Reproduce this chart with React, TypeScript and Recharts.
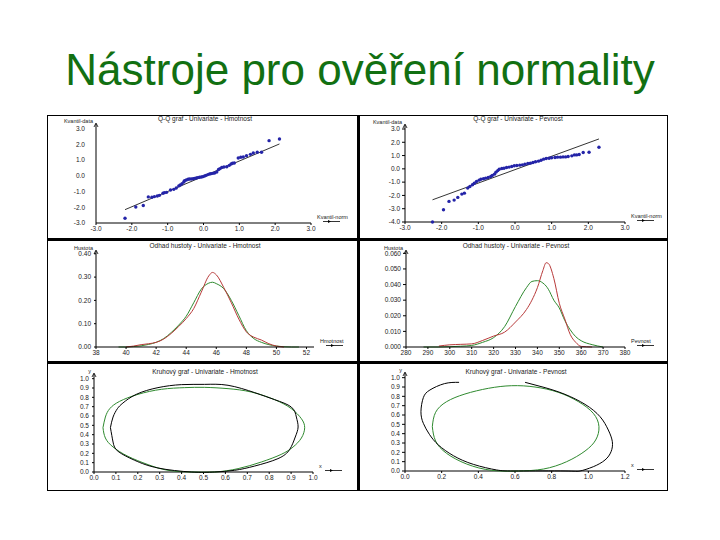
import React from 'react';
import { ScatterChart, Scatter, LineChart, Line, XAxis, YAxis, ReferenceLine } from 'recharts';

// Q-Q graf – Hmotnost (teoretický kvantil x, kvantil dat y)
const hmQqX = [-2.19, -1.89, -1.68, -1.54, -1.44, -1.37, -1.29, -1.23, -1.13, -1.09, -1.03, -0.92, -0.83, -0.76, -0.69, -0.65, -0.6, -0.55, -0.53, -0.48, -0.43, -0.39, -0.34, -0.29, -0.25, -0.2, -0.16, -0.11, -0.06, -0.02, 0.03, 0.07, 0.12, 0.17, 0.21, 0.26, 0.31, 0.37, 0.42, 0.46, 0.51, 0.57, 0.65, 0.72, 0.77, 0.81, 0.86, 0.97, 1.04, 1.11, 1.2, 1.31, 1.39, 1.5, 1.62, 1.83, 2.12];
const hmQqY = [-2.7, -1.98, -1.89, -1.34, -1.36, -1.32, -1.28, -1.24, -1.11, -1.07, -1.05, -0.9, -0.86, -0.77, -0.64, -0.58, -0.5, -0.39, -0.31, -0.26, -0.22, -0.2, -0.2, -0.18, -0.16, -0.14, -0.11, -0.09, -0.07, -0.05, -0.01, 0.03, 0.08, 0.12, 0.14, 0.16, 0.18, 0.25, 0.4, 0.46, 0.54, 0.56, 0.58, 0.67, 0.75, 0.8, 0.82, 1.14, 1.18, 1.2, 1.28, 1.37, 1.45, 1.5, 1.5, 2.24, 2.35];
const hmQqLine = [{ x: -2.19, y: -2.15 }, { x: 2.12, y: 2.03 }];

// Q-Q graf – Pevnost
const peQqX = [-2.25, -1.95, -1.8, -1.66, -1.56, -1.45, -1.38, -1.29, -1.23, -1.16, -1.11, -1.05, -0.98, -0.93, -0.86, -0.8, -0.73, -0.66, -0.62, -0.56, -0.52, -0.47, -0.43, -0.36, -0.3, -0.23, -0.16, -0.09, -0.02, 0.05, 0.13, 0.2, 0.27, 0.35, 0.42, 0.49, 0.56, 0.64, 0.71, 0.78, 0.85, 0.93, 1.0, 1.09, 1.16, 1.24, 1.31, 1.38, 1.45, 1.55, 1.62, 1.68, 1.75, 1.86, 2.02, 2.29];
const peQqY = [-4.0, -3.08, -2.45, -2.35, -2.15, -1.9, -1.83, -1.45, -1.33, -1.2, -1.08, -0.95, -0.85, -0.78, -0.75, -0.7, -0.65, -0.58, -0.5, -0.4, -0.25, -0.13, -0.03, 0.03, 0.05, 0.1, 0.13, 0.18, 0.23, 0.25, 0.28, 0.3, 0.35, 0.4, 0.43, 0.48, 0.53, 0.58, 0.65, 0.73, 0.78, 0.8, 0.83, 0.85, 0.88, 0.88, 0.9, 0.9, 0.93, 0.98, 1.05, 1.05, 1.08, 1.23, 1.25, 1.63];
const peQqLine = [{ x: -2.25, y: -2.33 }, { x: 2.29, y: 2.25 }];

// Odhad hustoty – Hmotnost (červená jádrový odhad, zelená normální)
const hmDensX = [39.5, 40, 40.5, 41, 41.5, 42, 42.5, 43, 43.5, 44, 44.5, 45, 45.5, 45.75, 46, 46.5, 47, 47.5, 48, 48.5, 49, 49.5, 50, 50.5, 51, 51.5];
const hmDensRed = [null, 0, 0.004, 0.01, 0.014, 0.02, 0.034, 0.058, 0.088, 0.122, 0.165, 0.235, 0.305, 0.32, 0.31, 0.255, 0.19, 0.12, 0.065, 0.042, 0.03, 0.014, 0.004, 0, null, null];
const hmDensGreen = [0, 0, 0.002, 0.005, 0.011, 0.02, 0.036, 0.062, 0.094, 0.132, 0.19, 0.248, 0.274, 0.278, 0.272, 0.25, 0.2, 0.135, 0.07, 0.036, 0.02, 0.01, 0.004, 0.001, 0, 0];

// Odhad hustoty – Pevnost
const peDensX = [288, 295, 300, 305, 310, 315, 320, 325, 330, 335, 337.5, 340, 342.5, 344, 345, 347.5, 350, 352.5, 355, 357.5, 360, 365, 370];
const peDensRed = [null, 0.0006, 0.0014, 0.0017, 0.002, 0.0042, 0.007, 0.0095, 0.016, 0.024, 0.03, 0.038, 0.049, 0.054, 0.0535, 0.044, 0.028, 0.018, 0.008, 0.003, 0.0004, 0, null];
const peDensGreen = [0, 0, 0.0002, 0.0005, 0.001, 0.003, 0.006, 0.013, 0.026, 0.038, 0.042, 0.0425, 0.041, 0.039, 0.037, 0.03, 0.025, 0.017, 0.011, 0.0066, 0.004, 0.0015, 0];

// kruhový graf – Hmotnost
const elHmBlackX = [0.075, 0.087, 0.107, 0.132, 0.193, 0.292, 0.399, 0.505, 0.612, 0.734, 0.825, 0.901, 0.924, 0.932, 0.919, 0.894, 0.84, 0.734, 0.642, 0.551, 0.444, 0.292, 0.186, 0.11, 0.087];
const elHmBlackY = [0.475, 0.589, 0.679, 0.739, 0.832, 0.904, 0.936, 0.939, 0.929, 0.85, 0.775, 0.696, 0.589, 0.482, 0.375, 0.243, 0.143, 0.064, 0.018, 0, 0, 0.043, 0.125, 0.221, 0.321];
const elHmGreenX = [0.041, 0.052, 0.072, 0.117, 0.201, 0.308, 0.414, 0.505, 0.612, 0.718, 0.825, 0.901, 0.947, 0.962, 0.947, 0.909, 0.855, 0.764, 0.658, 0.551, 0.444, 0.338, 0.247, 0.155, 0.087, 0.052];
const elHmGreenY = [0.475, 0.589, 0.679, 0.757, 0.832, 0.886, 0.904, 0.907, 0.893, 0.857, 0.775, 0.679, 0.571, 0.475, 0.364, 0.268, 0.189, 0.107, 0.036, 0, 0, 0.018, 0.079, 0.168, 0.268, 0.364];

// kruhový graf – Pevnost
const elPeBlackX = [0.295, 0.215, 0.136, 0.1, 0.087, 0.1, 0.133, 0.182, 0.264, 0.373, 0.5, 0.618, 0.873, 0.955, 1.027, 1.091, 1.124, 1.131, 1.109, 1.064, 0.982, 0.873, 0.764, 0.655];
const elPeBlackY = [0.95, 0.936, 0.868, 0.786, 0.636, 0.511, 0.393, 0.279, 0.164, 0.071, 0.011, 0, 0, 0, 0.046, 0.118, 0.207, 0.314, 0.439, 0.582, 0.714, 0.821, 0.893, 0.95];
const elPeGreenX = [0.149, 0.167, 0.227, 0.327, 0.455, 0.582, 0.709, 0.836, 0.946, 1.027, 1.058, 1.04, 0.982, 0.882, 0.755, 0.618, 0.473, 0.336, 0.227, 0.167];
const elPeGreenY = [0.475, 0.629, 0.743, 0.825, 0.886, 0.914, 0.9, 0.843, 0.743, 0.618, 0.475, 0.332, 0.214, 0.1, 0.021, 0, 0.007, 0.075, 0.189, 0.321];

// osy
const qqXTicks = [-3, -2, -1, 0, 1, 2, 3];
const hmQqYTicks = [-3, -2, -1, 0, 1, 2, 3];
const peQqYTicks = [-4, -3, -2, -1, 0, 1, 2, 3];
const hmDensXTicks = [38, 40, 42, 44, 46, 48, 50, 52];
const hmDensYTicks = [0, 0.1, 0.2, 0.3, 0.4];
const peDensXTicks = [280, 290, 300, 310, 320, 330, 340, 350, 360, 370, 380];
const peDensYTicks = [0, 0.01, 0.02, 0.03, 0.04, 0.05, 0.06];
const elHmXTicks = [0, 0.1, 0.2, 0.3, 0.4, 0.5, 0.6, 0.7, 0.8, 0.9, 1];
const elPeXTicks = [0, 0.2, 0.4, 0.6, 0.8, 1, 1.2];
const elYTicks = [0, 0.1, 0.2, 0.3, 0.4, 0.5, 0.6, 0.7, 0.8, 0.9, 1];

const FONT = 'Liberation Sans, Arial, sans-serif';
const tick = { fontSize: 6.5, fill: '#222', fontFamily: FONT };
const axisLine = { stroke: '#000', strokeWidth: 1 };
const BLUE = '#2424a8';
const RED = '#b83a3a';
const GREEN = '#2f8a2f';

const xy = (xs: number[], ys: number[]) => xs.map((x, i) => ({ x, y: ys[i] }));
const closed = (pts: { x: number; y: number }[]) => [...pts, pts[0]];
const noDot = () => <g />;
const dot = (p: any) => <circle cx={p.cx} cy={p.cy} r={1.7} fill={BLUE} />;

function yName(name: string) {
  return (props: any) => {
    const vb = props.viewBox;
    const ax = vb.x + vb.width;
    const top = vb.y;
    return (
      <g>
        <path d={`M${ax - 2},${top + 3}L${ax},${top - 1}L${ax + 2},${top + 3}`} stroke="#000" strokeWidth={0.8} fill="none" />
        <text x={ax - 3} y={top - 1.5} textAnchor="end" fontSize={5.5} fontFamily={FONT} fill="#222">{name}</text>
      </g>
    );
  };
}

function xName(name: string) {
  return (props: any) => {
    const vb = props.viewBox;
    const r = vb.x + vb.width;
    const y = vb.y;
    return (
      <g>
        <text x={r + 6} y={y - 4} fontSize={5.5} fontFamily={FONT} fill="#222">{name}</text>
        <line x1={r + 12} x2={r + 29} y1={y - 1.5} y2={y - 1.5} stroke="#000" strokeWidth={0.8} />
        <path d={`M${r + 17},${y - 3}L${r + 20},${y - 1.5}L${r + 17},${y}Z`} fill="#000" />
      </g>
    );
  };
}

function Title({ left, top, children }: { left: number; top: number; children: React.ReactNode }) {
  return (
    <div style={{ position: 'absolute', left: left - 100, top, width: 200, textAlign: 'center', fontSize: 6.5, lineHeight: '8px', fontFamily: FONT, color: '#222', whiteSpace: 'nowrap' }}>
      {children}
    </div>
  );
}

function Box({ left, top, children }: { left: number; top: number; children: React.ReactNode }) {
  return <div style={{ position: 'absolute', left, top }}>{children}</div>;
}

export default function App() {
  return (
    <div style={{ position: 'absolute', left: 0, top: 0, width: 720, height: 540, background: '#fff', fontFamily: FONT, overflow: 'hidden' }}>
      <div style={{ position: 'absolute', left: 0, top: 45, width: 720, textAlign: 'center', fontSize: 44, lineHeight: '50px', color: '#127012', fontFamily: FONT }}>
        Nástroje pro ověření normality
      </div>

      {/* Q-Q Hmotnost */}
      <Box left={50} top={117}>
        <ScatterChart width={305} height={120} margin={{ top: 7, right: 44, bottom: 2, left: 0 }}>
          <XAxis type="number" dataKey="x" domain={[-3, 3]} ticks={qqXTicks} tickFormatter={(v) => v.toFixed(1)} tick={tick} axisLine={axisLine} tickLine={axisLine} tickSize={2} tickMargin={1} height={12} interval={0} label={xName('Kvantil-norm')} />
          <YAxis type="number" dataKey="y" domain={[-3, 3.3]} ticks={hmQqYTicks} tickFormatter={(v) => v.toFixed(1)} tick={tick} axisLine={axisLine} tickLine={false} tickMargin={5} width={46} interval={0} label={yName('Kvantil-data')} />
          <ReferenceLine segment={hmQqLine} stroke="#000" strokeWidth={0.8} ifOverflow="visible" />
          <Scatter data={xy(hmQqX, hmQqY)} shape={dot} isAnimationActive={false} />
        </ScatterChart>
      </Box>
      <Title left={205} top={115}>Q-Q graf - Univariate - Hmotnost</Title>

      {/* Q-Q Pevnost */}
      <Box left={360} top={117}>
        <ScatterChart width={305} height={120} margin={{ top: 8, right: 40, bottom: 3, left: 0 }}>
          <XAxis type="number" dataKey="x" domain={[-3, 3]} ticks={qqXTicks} tickFormatter={(v) => v.toFixed(1)} tick={tick} axisLine={axisLine} tickLine={axisLine} tickSize={2} tickMargin={1} height={12} interval={0} label={xName('Kvantil-norm')} />
          <YAxis type="number" dataKey="y" domain={[-4, 3.3]} ticks={peQqYTicks} tickFormatter={(v) => v.toFixed(1)} tick={tick} axisLine={axisLine} tickLine={axisLine} tickSize={3} tickMargin={2} width={45} interval={0} label={yName('Kvantil-data')} />
          <ReferenceLine segment={peQqLine} stroke="#000" strokeWidth={0.8} ifOverflow="visible" />
          <Scatter data={xy(peQqX, peQqY)} shape={dot} isAnimationActive={false} />
        </ScatterChart>
      </Box>
      <Title left={518} top={115}>Q-Q graf - Univariate - Pevnost</Title>

      {/* hustota Hmotnost */}
      <Box left={50} top={241}>
        <LineChart width={305} height={120} margin={{ top: 10, right: 41, bottom: 2, left: 0 }} data={hmDensX.map((x, i) => ({ x, red: hmDensRed[i], green: hmDensGreen[i] }))}>
          <XAxis type="number" dataKey="x" domain={[38, 52.5]} ticks={hmDensXTicks} tick={tick} axisLine={axisLine} tickLine={axisLine} tickSize={2} tickMargin={1} height={12} interval={0} label={xName('Hmotnost')} />
          <YAxis type="number" domain={[0, 0.412]} ticks={hmDensYTicks} tickFormatter={(v) => v.toFixed(2)} tick={tick} axisLine={axisLine} tickLine={axisLine} tickSize={2} tickMargin={3} width={46} interval={0} label={yName('Hustota')} />
          <Line dataKey="green" stroke={GREEN} strokeWidth={1} dot={false} type="monotone" isAnimationActive={false} />
          <Line dataKey="red" stroke={RED} strokeWidth={1} dot={false} type="monotone" isAnimationActive={false} />
        </LineChart>
      </Box>
      <Title left={205} top={242}>Odhad hustoty - Univariate - Hmotnost</Title>

      {/* hustota Pevnost */}
      <Box left={360} top={241}>
        <LineChart width={305} height={120} margin={{ top: 10, right: 40, bottom: 2, left: 0 }} data={peDensX.map((x, i) => ({ x, red: peDensRed[i], green: peDensGreen[i] }))}>
          <XAxis type="number" dataKey="x" domain={[280, 380]} ticks={peDensXTicks} tick={tick} axisLine={axisLine} tickLine={axisLine} tickSize={2} tickMargin={1} height={12} interval={0} label={xName('Pevnost')} />
          <YAxis type="number" domain={[0, 0.0615]} ticks={peDensYTicks} tickFormatter={(v) => v.toFixed(3)} tick={tick} axisLine={axisLine} tickLine={axisLine} tickSize={3} tickMargin={2} width={46} interval={0} label={yName('Hustota')} />
          <Line dataKey="green" stroke={GREEN} strokeWidth={1} dot={false} type="monotone" isAnimationActive={false} />
          <Line dataKey="red" stroke={RED} strokeWidth={1} dot={false} type="monotone" isAnimationActive={false} />
        </LineChart>
      </Box>
      <Title left={516} top={242}>Odhad hustoty - Univariate - Pevnost</Title>

      {/* kruhový graf Hmotnost */}
      <Box left={50} top={365}>
        <ScatterChart width={305} height={122} margin={{ top: 9, right: 42, bottom: 3, left: 0 }}>
          <XAxis type="number" dataKey="x" domain={[0, 1]} ticks={elHmXTicks} tickFormatter={(v) => v.toFixed(1)} tick={tick} axisLine={axisLine} tickLine={axisLine} tickSize={2} tickMargin={1} height={12} interval={0} label={xName('x')} />
          <YAxis type="number" dataKey="y" domain={[0, 1.05]} ticks={elYTicks} tickFormatter={(v) => v.toFixed(1)} tick={tick} axisLine={axisLine} tickLine={axisLine} tickSize={2} tickMargin={3} width={44} interval={0} label={yName('y')} />
          <Scatter data={closed(xy(elHmGreenX, elHmGreenY))} line={{ stroke: GREEN, strokeWidth: 1 }} lineJointType="natural" shape={noDot} isAnimationActive={false} />
          <Scatter data={closed(xy(elHmBlackX, elHmBlackY))} line={{ stroke: '#000', strokeWidth: 1 }} lineJointType="natural" shape={noDot} isAnimationActive={false} />
        </ScatterChart>
      </Box>
      <Title left={205} top={368}>Kruhový graf - Univariate - Hmotnost</Title>

      {/* kruhový graf Pevnost */}
      <Box left={360} top={365}>
        <ScatterChart width={305} height={122} margin={{ top: 8, right: 40, bottom: 4, left: 0 }}>
          <XAxis type="number" dataKey="x" domain={[0, 1.2]} ticks={elPeXTicks} tickFormatter={(v) => v.toFixed(1)} tick={tick} axisLine={axisLine} tickLine={axisLine} tickSize={2} tickMargin={1} height={12} interval={0} label={xName('x')} />
          <YAxis type="number" dataKey="y" domain={[0, 1.05]} ticks={elYTicks} tickFormatter={(v) => v.toFixed(1)} tick={tick} axisLine={axisLine} tickLine={axisLine} tickSize={3} tickMargin={2} width={45} interval={0} label={yName('y')} />
          <Scatter data={closed(xy(elPeGreenX, elPeGreenY))} line={{ stroke: GREEN, strokeWidth: 1 }} lineJointType="natural" shape={noDot} isAnimationActive={false} />
          <Scatter data={xy(elPeBlackX, elPeBlackY)} line={{ stroke: '#000', strokeWidth: 1 }} lineJointType="natural" shape={noDot} isAnimationActive={false} />
        </ScatterChart>
      </Box>
      <Title left={516} top={368}>Kruhový graf - Univariate - Pevnost</Title>

      {/* rámeček a dělicí čáry */}
      <div style={{ position: 'absolute', left: 47, top: 115, width: 621, height: 376, border: '1px solid #000', boxSizing: 'border-box', pointerEvents: 'none' }} />
      <div style={{ position: 'absolute', left: 357, top: 115, width: 3, height: 376, background: '#000' }} />
      <div style={{ position: 'absolute', left: 47, top: 238, width: 621, height: 3, background: '#000' }} />
      <div style={{ position: 'absolute', left: 47, top: 361, width: 621, height: 3, background: '#000' }} />
    </div>
  );
}
